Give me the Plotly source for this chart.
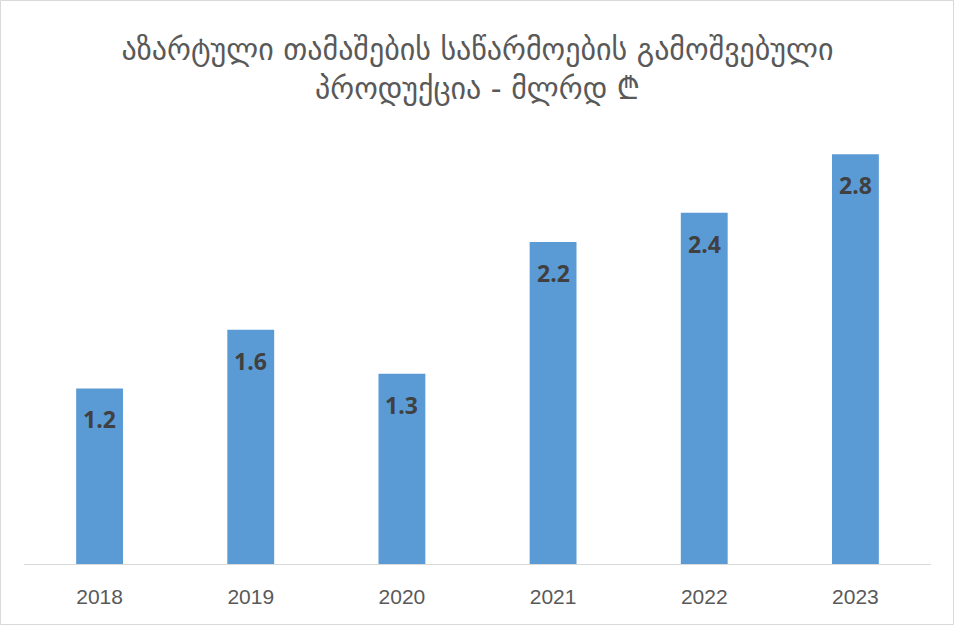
import plotly.graph_objects as go

years = ["2018", "2019", "2020", "2021", "2022", "2023"]
values = [1.2, 1.6, 1.3, 2.2, 2.4, 2.8]
title_text = "აზარტული თამაშების საწარმოების გამოშვებული<br>პროდუქცია - მლრდ ₾"

W, H = 955, 626
ml, mr, mt, mb = 24, 24, 125, 62
pw, ph = W - ml - mr, H - mt - mb

pos = list(range(len(years)))

fig = go.Figure()
fig.add_trace(go.Bar(
    x=pos, y=values, marker=dict(color="#5B9BD5", line=dict(width=0)),
    width=0.31, hovertext=years, hoverinfo="text+y",
))

annotations = [
    dict(x=p, y=v, xref="x", yref="y", text=f"<b>{v:.1f}</b>", showarrow=False,
         yanchor="top", yshift=-13,
         font=dict(family="Open Sans, Noto Sans, sans-serif", size=23, color="#404040"))
    for p, v in zip(pos, values)
]

fig.update_layout(
    width=W, height=H,
    margin=dict(l=ml, r=mr, t=mt, b=mb),
    paper_bgcolor="white", plot_bgcolor="white",
    title=dict(text=title_text, x=0.5, xanchor="center", y=1 - 60 / H, yanchor="top",
               font=dict(family="DejaVu Sans, Noto Sans, sans-serif", size=30, color="#595959")),
    xaxis=dict(range=[-0.5, len(years) - 0.5], tickmode="array", tickvals=pos, ticktext=years,
               showline=True, linecolor="#D9D9D9", linewidth=1, ticks="",
               ticklabelstandoff=14,
               tickfont=dict(family="Liberation Sans, Arial, sans-serif", size=21, color="#595959"),
               showgrid=False, zeroline=False),
    yaxis=dict(range=[0, 3], visible=False, showgrid=False, zeroline=False),
    showlegend=False,
    annotations=annotations,
    shapes=[dict(type="rect", xref="paper", yref="paper",
                 x0=(0.5 - ml) / pw, x1=(W - 1.5 - ml) / pw,
                 y0=-(mb - 1.5) / ph, y1=1 + (mt - 0.5) / ph,
                 line=dict(color="#D9D9D9", width=1), fillcolor="rgba(0,0,0,0)", layer="below")],
)

fig.write_html("out.html", config={"displayModeBar": False},
               post_script="document.body.style.margin='0';document.body.style.overflow='hidden';")
